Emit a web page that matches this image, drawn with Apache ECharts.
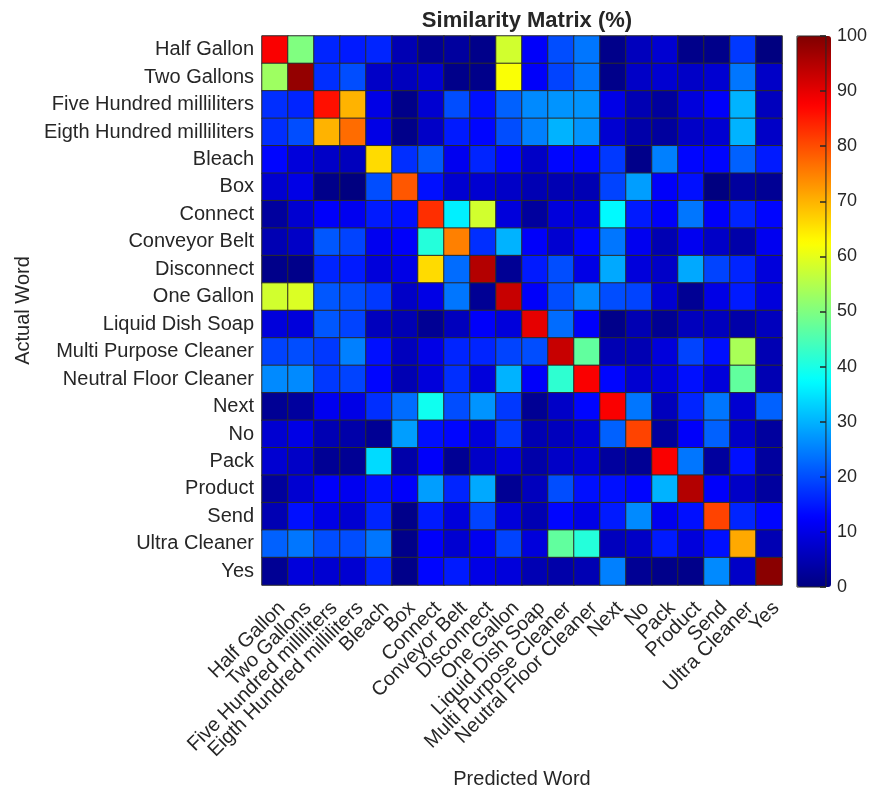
<!DOCTYPE html>
<html>
<head>
<meta charset="utf-8">
<title>Similarity Matrix (%)</title>
<script src="https://cdn.jsdelivr.net/npm/echarts@6/dist/echarts.min.js"></script>
<style>
  html, body { margin: 0; padding: 0; background: #ffffff; }
  #chart { width: 870px; height: 794px; }
</style>
</head>
<body>
<div id="chart"></div>
<script>
// Vocabulary of spoken words (same order for actual and predicted)
const words = [
  'Half Gallon', 'Two Gallons', 'Five Hundred milliliters', 'Eigth Hundred milliliters',
  'Bleach', 'Box', 'Connect', 'Conveyor Belt', 'Disconnect', 'One Gallon',
  'Liquid Dish Soap', 'Multi Purpose Cleaner', 'Neutral Floor Cleaner', 'Next', 'No',
  'Pack', 'Product', 'Send', 'Ultra Cleaner', 'Yes'
];

// Similarity in percent: one row per actual word, one column per predicted word
const similarity = [
  [88, 50, 16, 15, 16,  5,  2,  3,  1, 58, 12, 20, 24,  1,  6,  8,  1,  1, 18,  0],
  [53, 98, 17, 20,  7,  6,  8,  1,  1, 62, 12, 19, 24,  1,  7,  8,  7,  8, 24,  7],
  [17, 16, 86, 70, 10,  1,  8, 20, 14, 22, 26, 27, 27, 10,  5,  3,  9, 12, 30,  6],
  [17, 20, 70, 77, 10,  1,  7, 15, 13, 20, 25, 30, 27,  8,  4,  3,  7,  8, 30,  7],
  [13,  9,  7,  6, 66, 17, 21, 11, 16, 13,  7, 13, 13, 18,  1, 25, 13, 13, 22, 15],
  [ 8, 10,  1,  0, 20, 79, 14,  8,  8,  7,  5,  5,  5, 19, 28, 12, 14,  0,  3,  2],
  [ 3,  8, 12, 11, 15, 14, 83, 36, 58,  9,  3,  9,  9, 37, 15, 12, 24, 12, 16, 13],
  [ 5,  7, 21, 19, 11, 12, 41, 75, 17, 30, 12,  8, 13, 24, 11,  5, 11,  7,  4, 11],
  [ 1,  1, 16, 15,  9, 10, 66, 23, 95,  2, 15, 20, 10, 29,  9,  7, 29, 19, 16,  9],
  [58, 59, 21, 20, 18,  7, 10, 24,  2, 93, 12, 20, 26, 20, 19,  8,  2, 10, 15,  9],
  [ 9,  9, 21, 19,  6,  5,  2,  6, 12,  9, 90, 23, 12,  1,  5,  2,  6,  6,  4,  6],
  [19, 20, 18, 25, 14,  6, 10, 16, 16, 19, 20, 93, 47,  5,  5,  9, 19, 14, 54,  5],
  [26, 26, 18, 19, 13,  5,  9, 17,  9, 30, 12, 42, 88, 13,  8,  9, 14,  9, 47,  5],
  [ 2,  3, 11, 10, 17, 23, 39, 20, 27, 18,  2,  7, 13, 88, 24,  6, 16, 24,  8, 22],
  [ 8, 10,  5,  4,  2, 28, 14, 13,  9, 18,  5,  6,  8, 22, 81,  3, 12, 22,  7,  3],
  [ 8,  7,  2,  2, 34,  4, 12,  2,  7,  9,  4,  7,  8,  3,  2, 88, 24,  3, 14,  3],
  [ 3,  8, 12, 11, 14, 12, 28, 16, 29,  2,  6, 20, 14, 14, 13, 30, 95, 12,  7,  3],
  [ 5, 14, 10,  8, 16,  1, 15,  9, 19,  9,  5, 13, 10, 15, 26, 11, 14, 81, 16, 13],
  [22, 24, 20, 20, 24,  1, 12,  8, 11, 19,  9, 47, 41,  6,  7, 15,  9, 14, 71,  5],
  [ 2,  9,  8,  8, 16,  1, 13, 15, 10,  9,  5,  4,  5, 25,  2,  1,  1, 26,  7, 99]
];

// Colour bar scale
const colorbarMin = 0;
const colorbarMax = 100;
const colorbarStep = 10;

// Jet colormap stops, evenly spaced from 0 to 1
const jet = ['#000080', '#0000ff', '#0080ff', '#00ffff', '#80ff80',
             '#ffff00', '#ff8000', '#ff0000', '#800000'];

const cells = [];
similarity.forEach((row, r) => {
  row.forEach((v, c) => cells.push([c, r, v]));
});

const textColor = '#262626';
const fontFamily = '"Liberation Sans", Arial, Helvetica, sans-serif';

const chart = echarts.init(document.getElementById('chart'), null, { renderer: 'canvas' });
chart.setOption({
  backgroundColor: '#ffffff',
  animation: false,
  textStyle: { fontFamily: fontFamily, color: textColor },
  title: {
    text: 'Similarity Matrix (%)',
    left: 522,
    textAlign: 'center',
    top: 5,
    textStyle: { fontSize: 22, fontWeight: 'bold', color: textColor, fontFamily: fontFamily }
  },
  grid: [
    { left: 262, top: 36, width: 520, height: 551 },
    { left: 797, top: 36, width: 34, height: 551, show: true, z: 10,
      borderColor: textColor, borderWidth: 1, backgroundColor: 'transparent' }
  ],
  xAxis: [
    {
      type: 'category', gridIndex: 0, data: words,
      name: 'Predicted Word', nameLocation: 'middle', nameGap: 184,
      nameTextStyle: { fontSize: 20, color: textColor },
      axisLine: { show: false }, axisTick: { show: false }, splitLine: { show: false },
      axisLabel: { rotate: 45, interval: 0, fontSize: 20, color: textColor,
                   margin: 13, verticalAlign: 'top' }
    },
    {
      type: 'value', gridIndex: 1, min: 0, max: 1, show: false
    }
  ],
  yAxis: [
    {
      type: 'category', gridIndex: 0, data: words, inverse: true,
      name: 'Actual Word', nameLocation: 'middle', nameRotate: 90, nameGap: 228,
      nameTextStyle: { fontSize: 20, color: textColor },
      axisLine: { show: false }, axisTick: { show: false }, splitLine: { show: false },
      axisLabel: { interval: 0, fontSize: 20, color: textColor, margin: 8 }
    },
    {
      type: 'value', gridIndex: 1, position: 'right', z: 12,
      min: colorbarMin, max: colorbarMax, interval: colorbarStep,
      axisLine: { show: false, onZero: false },
      axisTick: { show: true, inside: true, length: 6, lineStyle: { color: textColor, width: 1.5 } },
      splitLine: { show: false },
      axisLabel: { fontSize: 18, color: textColor, margin: 11 }
    }
  ],
  visualMap: {
    type: 'continuous',
    min: colorbarMin,
    max: colorbarMax,
    seriesIndex: 0,
    calculable: false,
    realtime: false,
    left: 797,
    top: 36,
    itemWidth: 34,
    itemHeight: 551,
    padding: 0,
    text: null,
    hoverLink: false,
    inRange: { color: jet }
  },
  series: [{
    type: 'heatmap',
    xAxisIndex: 0,
    yAxisIndex: 0,
    data: cells,
    itemStyle: { borderColor: '#2b2b2b', borderWidth: 1 },
    emphasis: { disabled: true }
  }]
});
</script>
</body>
</html>
